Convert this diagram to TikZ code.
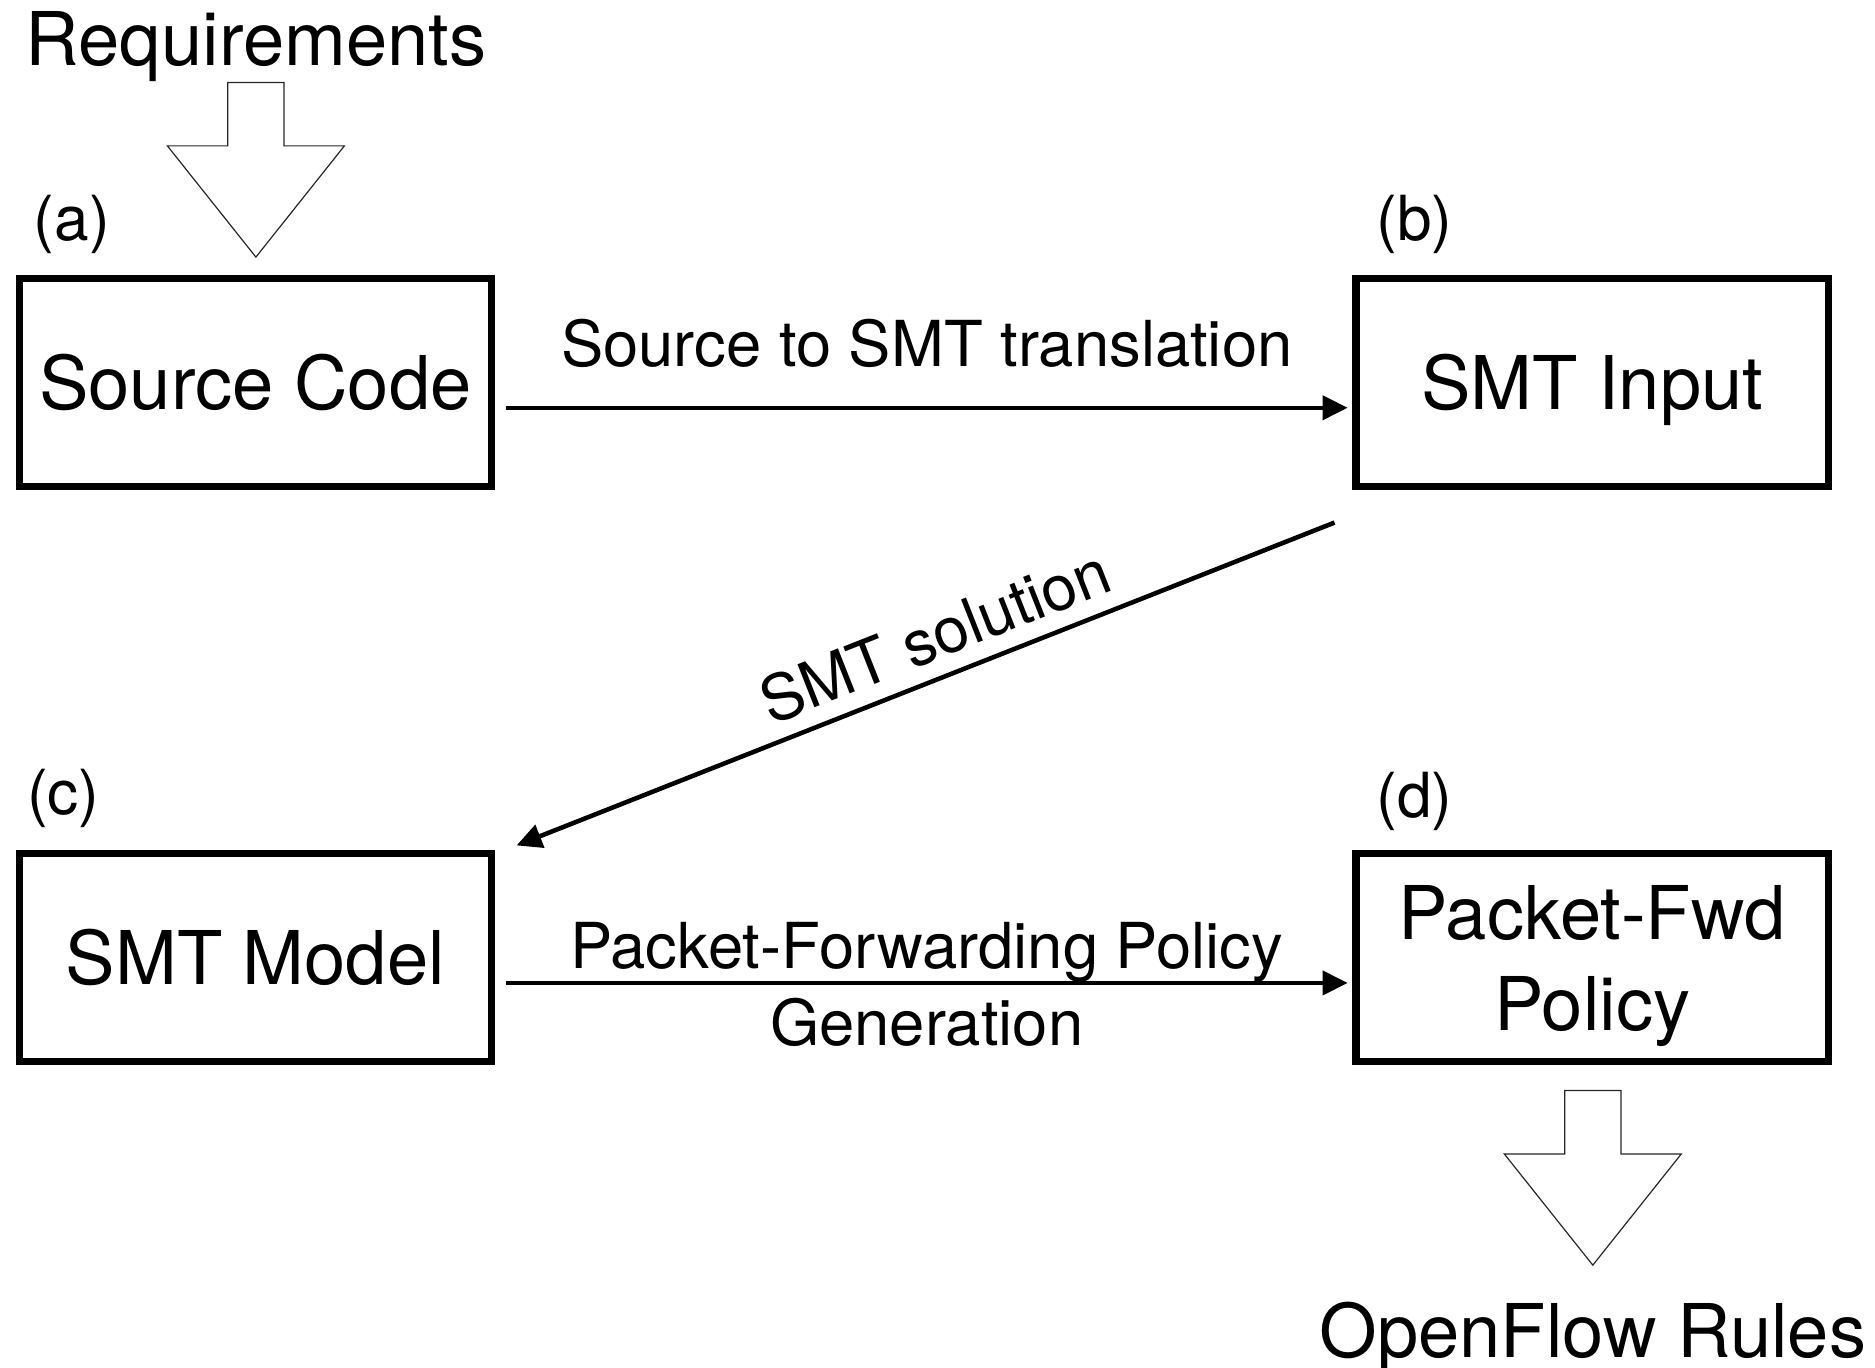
\documentclass[tikz,border=0pt]{standalone}
\usepackage{fontspec}
\setmainfont{TeX Gyre Heros}
\usetikzlibrary{arrows.meta}
\begin{document}
\begin{tikzpicture}[x=1pt,y=-1pt,
  box/.style={draw, line width=6pt, minimum width=395pt, minimum height=174pt, inner sep=0pt,
    font=\fontsize{62}{76}\selectfont},
  onebox/.style={box, text height=44.6pt, text depth=0pt},
  tag/.style={font=\fontsize{52}{62}\selectfont, inner sep=0pt},
  elabel/.style={font=\fontsize{53}{64.4}\selectfont, inner sep=0pt},
  big/.style={font=\fontsize{62}{76}\selectfont, inner sep=0pt},
  flow/.style={line width=3.8pt, -{Triangle[length=21pt,width=20pt]}},
  hollow/.pic={\draw[line width=1pt, draw=black!85, fill=white]
     (-23.5,0) -- (23.5,0) -- (23.5,53) -- (74,53) -- (0,146) -- (-74,53) -- (-23.5,53) -- cycle;}
]
\useasboundingbox (0,0) rectangle (1568,1144);

% boxes
\node[onebox] (a) at (213.5,320) {Source Code};
\node[onebox] (b) at (1331.5,320) {SMT Input};
\node[onebox] (c) at (213.5,801) {SMT Model};
\node[box, align=center] (d) at (1331.5,801) {Packet-Fwd\\\smash{Policy}};

% tags
\node[tag] (ta) at ([xshift=47pt,yshift=42pt]a.north west) {(a)};
\node[tag] (tb) at ([xshift=52pt,yshift=42pt]b.north west) {(b)};
\node[tag] (tc) at ([xshift=40pt,yshift=43pt]c.north west) {(c)};
\node[tag] (td) at ([xshift=52pt,yshift=41pt]d.north west) {(d)};

% input / output
\node[big, anchor=base] (req) at (214,55) {Requirements};
\node[big, anchor=base] (ofr) at (1332,1135) {OpenFlow Rules};
\pic at (214,69) {hollow};
\pic at (1332,912) {hollow};

% connectors
\draw[flow] ([xshift=9pt,yshift=-21pt]a.east) -- node[elabel, above=32pt] {Source to SMT translation} ([xshift=-4pt,yshift=-21pt]b.west);
\draw[flow] ([xshift=-15pt,yshift=-27pt]b.south west) -- node[elabel, pos=0.47, sloped, above=12.5pt] {SMT solution} ([xshift=18pt,yshift=4pt]c.north east);
\draw[flow] ([xshift=9pt,yshift=-21pt]c.east) -- node[elabel, align=center, yshift=-1pt] {Packet-Forwarding Policy\\Generation} ([xshift=-4pt,yshift=-21pt]d.west);
\end{tikzpicture}
\end{document}
